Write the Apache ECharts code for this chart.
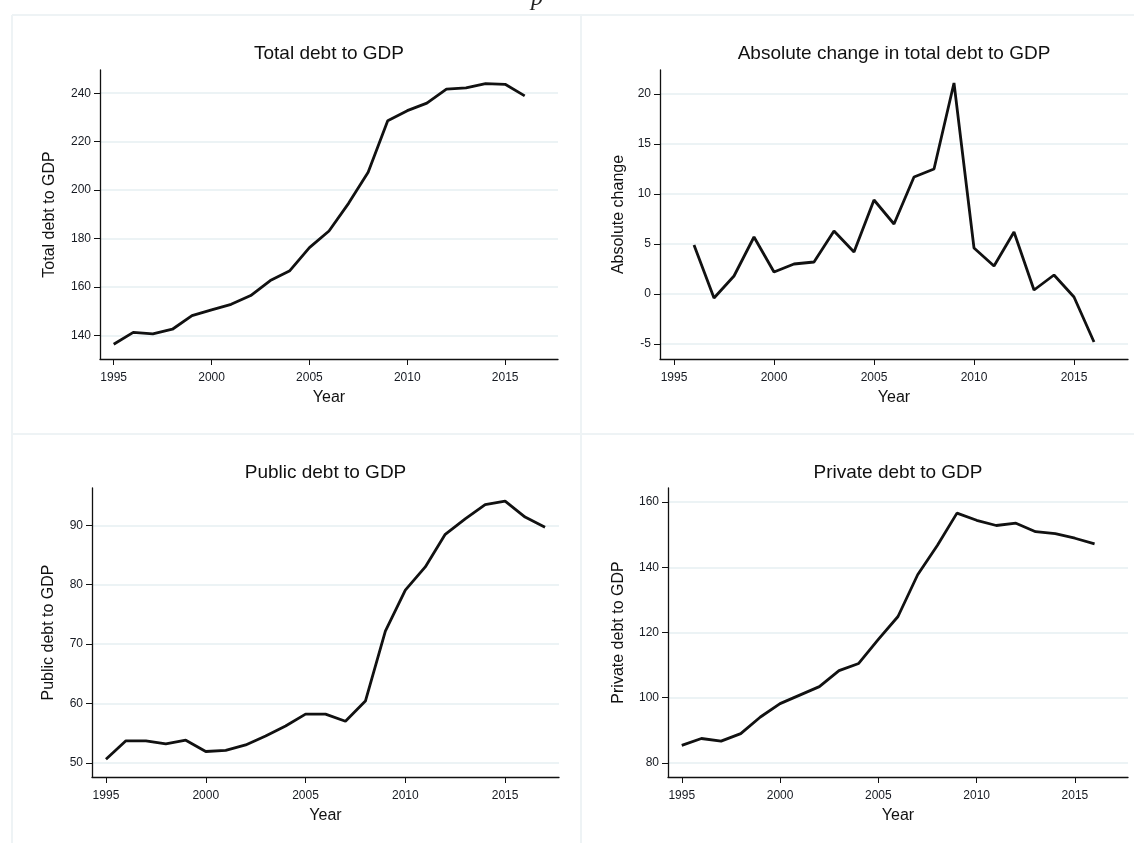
<!DOCTYPE html>
<html>
<head>
<meta charset="utf-8">
<script src="https://cdn.jsdelivr.net/npm/echarts@6/dist/echarts.min.js"></script>
<style>html,body{margin:0;padding:0;background:#fff;}#c{width:1134px;height:843px;}</style>
</head>
<body>
<div id="c"></div>
<script>
// ---- Data ----
const yearsTotal = [1995,1996,1997,1998,1999,2000,2001,2002,2003,2004,2005,2006,2007,2008,2009,2010,2011,2012,2013,2014,2015,2016];
const totalDebt = [136.3,141.2,140.6,142.5,148.1,150.5,152.8,156.4,162.6,166.7,176.2,183.1,194.5,207.4,228.6,232.8,235.9,241.7,242.2,244.0,243.7,238.9];

const yearsChange = [1996,1997,1998,1999,2000,2001,2002,2003,2004,2005,2006,2007,2008,2009,2010,2011,2012,2013,2014,2015,2016];
const absChange = [4.9,-0.4,1.8,5.7,2.2,3.0,3.2,6.3,4.2,9.4,7.0,11.7,12.5,21.1,4.6,2.8,6.2,0.4,1.9,-0.3,-4.8];

const yearsPublic = [1995,1996,1997,1998,1999,2000,2001,2002,2003,2004,2005,2006,2007,2008,2009,2010,2011,2012,2013,2014,2015,2016,2017];
const publicDebt = [50.6,53.7,53.7,53.2,53.8,51.9,52.1,53.0,54.5,56.2,58.2,58.2,57.0,60.4,72.2,79.1,83.0,88.5,91.1,93.5,94.1,91.4,89.7];

const yearsPrivate = [1995,1996,1997,1998,1999,2000,2001,2002,2003,2004,2005,2006,2007,2008,2009,2010,2011,2012,2013,2014,2015,2016];
const privateDebt = [85.4,87.5,86.7,89.0,94.1,98.2,100.8,103.4,108.3,110.5,117.9,124.9,137.7,146.7,156.6,154.4,152.8,153.5,150.9,150.3,148.9,147.2];

const xTicks = [1995,2000,2005,2010,2015];
const yTicksTotal = [140,160,180,200,220,240];
const yTicksChange = [-5,0,5,10,15,20];
const yTicksPublic = [50,60,70,80,90];
const yTicksPrivate = [80,100,120,140,160];

const titles = ['Total debt to GDP','Absolute change in total debt to GDP','Public debt to GDP','Private debt to GDP'];
const yNames = ['Total debt to GDP','Absolute change','Public debt to GDP','Private debt to GDP'];
const xName = 'Year';

// ---- Layout ----
const FONT = 'Liberation Sans, Arial, Helvetica, sans-serif';
const grids = [
  {left:100, width:458, top:70, height:289},
  {left:660, width:468, top:70, height:289},
  {left:92,  width:467, top:488, height:289},
  {left:668, width:460, top:488, height:289}
];
const yRanges = [[130.2,249.6],[-6.5,22.4],[47.6,96.3],[75.7,164.3]];
const yTickSets = [yTicksTotal,yTicksChange,yTicksPublic,yTicksPrivate];
const yNameGaps = [42,33,35,41];
const seriesX = [yearsTotal,yearsChange,yearsPublic,yearsPrivate];
const seriesY = [totalDebt,absChange,publicDebt,privateDebt];

const gridColor = '#e6eff2';
const txtColor = '#161a22';

const option = {
  backgroundColor:'#ffffff',
  animation:false,
  grid: grids.map(g => Object.assign({containLabel:false}, g)),
  title: grids.map((g,i) => ({
    text: titles[i], left: g.left + g.width/2, top: i<2 ? 44 : 463, textAlign:'center', padding:0,
    textStyle:{fontFamily:FONT, fontSize:19, fontWeight:'normal', color:'#111'}
  })),
  xAxis: grids.map((g,i) => ({
    type:'value', gridIndex:i, min:1994.3, max:2017.7,
    name:xName, nameLocation:'middle', nameGap:31,
    nameTextStyle:{fontFamily:FONT, fontSize:16, color:'#111'},
    axisLine:{show:true, onZero:false, lineStyle:{color:'#111', width:1.3}},
    axisTick:{show:true, length:6, customValues:xTicks, lineStyle:{color:'#111', width:1}},
    axisLabel:{customValues:xTicks, margin:13, fontFamily:FONT, fontSize:12, color:txtColor, formatter:v=>String(v)},
    splitLine:{show:false}
  })),
  yAxis: grids.map((g,i) => ({
    type:'value', gridIndex:i, min:yRanges[i][0], max:yRanges[i][1],
    name:yNames[i], nameLocation:'middle', nameGap:yNameGaps[i], nameRotate:90,
    nameTextStyle:{fontFamily:FONT, fontSize:16, color:'#111'},
    axisLine:{show:true, onZero:false, lineStyle:{color:'#111', width:1.3}},
    axisTick:{show:true, length:6, customValues:yTickSets[i], lineStyle:{color:'#111', width:1}},
    axisLabel:{customValues:yTickSets[i], margin:9, fontFamily:FONT, fontSize:12, color:txtColor, formatter:v=>String(v)},
    splitLine:{show:true, lineStyle:{color:gridColor, width:1.5}}
  })),
  series: grids.map((g,i) => ({
    type:'line', xAxisIndex:i, yAxisIndex:i, showSymbol:false, symbol:'none',
    lineStyle:{color:'#111', width:2.8}, z:3,
    data: seriesX[i].map((x,k) => [x, seriesY[i][k]])
  })),
  graphic: [
    {type:'line', shape:{x1:12,y1:15,x2:1134,y2:15}, style:{stroke:'#eef3f5', lineWidth:2}, silent:true},
    {type:'line', shape:{x1:12,y1:15,x2:12,y2:843}, style:{stroke:'#eef3f5', lineWidth:2}, silent:true},
    {type:'line', shape:{x1:581,y1:15,x2:581,y2:843}, style:{stroke:'#eef3f5', lineWidth:2}, silent:true},
    {type:'line', shape:{x1:12,y1:434,x2:1134,y2:434}, style:{stroke:'#eef3f5', lineWidth:2}, silent:true},
    {type:'text', left:531, top:-13, style:{text:'p', font:'italic 24px "Liberation Serif", serif', fill:'#222'}, silent:true}
  ]
};

const chart = echarts.init(document.getElementById('c'), null, {renderer:'canvas'});
chart.setOption(option);
</script>
</body>
</html>
